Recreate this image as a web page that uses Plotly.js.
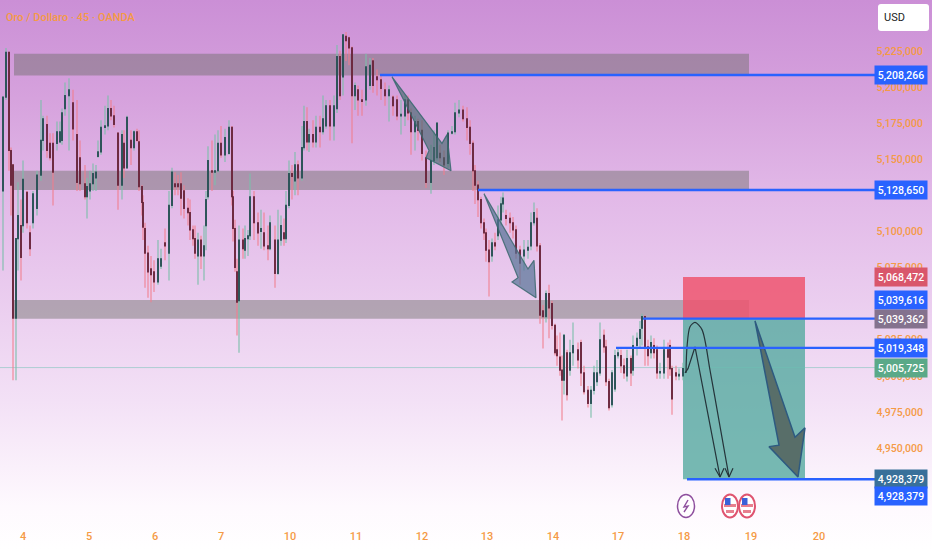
<!DOCTYPE html>
<html><head><meta charset="utf-8">
<script src="https://cdn.plot.ly/plotly-3.0.1.min.js"></script>
<style>
html,body{margin:0;padding:0;background:#fff}
#chart{width:932px;height:550px;background:linear-gradient(180deg,#cb8fd6 0%,#d6a2dd 18%,#e2b9e8 36%,#f3e1f6 73%,#fef9fe 92%,#ffffff 100%)}
</style></head><body><div id="chart"></div>
<script>
// Session time in chart units (one session = 66 units)
const barTime=[
3,6,9,11,13,16,18,21,23,27,
30,33,37,41,43,47,50,53,57,60,
62,65,69,73,77,80,85,87,90,93,
96,98,101,105,108,111,114,118,122,124,
127,131,134,137,139,142,143,145,148,151,
154,158,161,165,169,172,175,178,181,184,
188,190,193,195,198,201,204,206,208,212,
215,218,221,225,229,232,233,235,237,239,
243,245,248,250,254,258,261,264,268,270,
275,278,281,284,286,289,292,295,298,302,
304,307,309,313,316,320,323,326,330,334,
337,340,343,346,349,352,355,358,362,366,
370,373,377,381,385,389,393,397,401,405,
408,411,415,418,422,426,431,434,437,440,
444,448,452,455,459,463,467,470,473,475,
478,481,484,486,489,492,495,498,501,503,
506,510,513,516,520,524,528,531,534,537,
540,543,546,549,552,555,557,560,562,564,
567,570,573,578,581,584,588,591,594,597,
600,604,606,609,612,615,618,621,624,627,
631,633,637,640,642,645,648,651,654,657,
660,664,668,670,672,676,679,683];
// Prices in thousands of USD
const opens=[
5128,5193,5224,5156,5146,5040,5095,5104,5104,5127,
5099,5106,5116,5139,5163,5174,5161,5161,5161,5162,
5163,5185,5194,5189,5167,5151,5133,5124,5128,5133,
5137,5152,5155,5172,5173,5185,5180,5168,5132,5161,
5144,5163,5158,5169,5162,5131,5120,5102,5085,5074,
5072,5065,5076,5092,5085,5118,5133,5133,5133,5128,
5116,5113,5101,5095,5083,5094,5083,5104,5124,5142,
5141,5142,5161,5153,5154,5172,5124,5102,5072,5052,
5094,5087,5095,5097,5124,5106,5100,5099,5090,5088,
5094,5071,5094,5099,5095,5118,5140,5135,5146,5137,
5158,5176,5162,5167,5162,5172,5169,5173,5187,5173,
5185,5221,5207,5235,5234,5227,5194,5198,5191,5191,
5201,5218,5207,5205,5198,5194,5193,5191,5180,5180,
5191,5182,5169,5176,5170,5151,5134,5149,5151,5154,
5151,5147,5168,5169,5182,5184,5178,5172,5161,5142,
5132,5122,5106,5099,5087,5083,5092,5097,5108,5119,
5111,5109,5106,5101,5087,5083,5087,5090,5106,5109,
5090,5045,5041,5057,5050,5035,5018,5013,5004,4997,
5016,5004,5016,5018,5023,5002,4990,4981,4990,4996,
5002,5028,5020,4996,4980,4991,5014,5014,5007,5000,
5012,5004,5021,5026,5033,5041,5020,5016,5021,5018,
5002,5002,5018,5021,5005,5002,5000,5000];
const highs=[
5193,5227,5224,5158,5146,5095,5134,5122,5149,5128,
5104,5128,5142,5191,5180,5180,5168,5168,5176,5176,
5185,5203,5206,5198,5191,5163,5146,5137,5142,5147,
5146,5163,5177,5187,5194,5191,5187,5168,5170,5170,
5180,5170,5170,5171,5170,5132,5125,5106,5090,5083,
5080,5094,5088,5102,5128,5144,5141,5139,5141,5132,
5123,5122,5104,5104,5099,5097,5104,5128,5159,5163,
5167,5170,5173,5171,5177,5173,5128,5108,5081,5104,
5102,5104,5101,5140,5128,5113,5115,5113,5104,5111,
5104,5115,5111,5109,5128,5149,5146,5155,5149,5173,
5187,5186,5171,5177,5180,5180,5194,5191,5191,5194,
5229,5225,5236,5238,5235,5228,5203,5201,5198,5223,
5220,5220,5212,5208,5203,5201,5194,5194,5191,5194,
5194,5185,5180,5178,5177,5156,5160,5170,5175,5160,
5156,5170,5173,5189,5191,5187,5186,5177,5163,5146,
5135,5124,5109,5102,5094,5095,5099,5118,5124,5127,
5115,5113,5110,5104,5090,5094,5094,5113,5120,5116,
5092,5049,5059,5063,5052,5036,5028,5030,5014,5029,
5018,5025,5037,5023,5025,5007,4993,4993,5007,5011,
5037,5032,5025,4998,5004,5018,5019,5018,5012,5018,
5014,5028,5030,5038,5043,5042,5025,5028,5026,5021,
5009,5025,5023,5025,5007,5007,5005,5009];
const lows=[
5073,5191,5142,5111,4997,4997,5073,5066,5099,5102,
5083,5102,5111,5135,5156,5151,5149,5118,5156,5161,
5160,5180,5156,5163,5128,5128,5122,5109,5122,5128,
5128,5151,5153,5167,5170,5177,5172,5115,5122,5137,
5144,5146,5156,5162,5128,5111,5094,5061,5054,5051,
5058,5063,5074,5080,5066,5116,5125,5125,5111,5109,
5104,5094,5090,5081,5063,5074,5066,5087,5122,5128,
5132,5141,5151,5148,5153,5118,5093,5072,5028,5016,
5081,5081,5083,5094,5094,5090,5088,5087,5080,5087,
5061,5070,5090,5090,5092,5116,5122,5125,5125,5135,
5156,5156,5155,5158,5158,5158,5167,5171,5163,5163,
5182,5191,5194,5218,5215,5161,5184,5180,5180,5187,
5198,5196,5194,5191,5187,5176,5180,5177,5167,5173,
5177,5153,5156,5163,5149,5130,5126,5146,5149,5148,
5139,5144,5167,5167,5179,5176,5163,5153,5128,5119,
5110,5102,5094,5079,5055,5079,5087,5094,5104,5113,
5104,5099,5095,5081,5063,5073,5081,5087,5104,5086,
5036,5019,5037,5026,5032,5014,5007,5000,4969,4987,
4983,5000,5007,5005,4993,4987,4978,4971,4987,4993,
5000,5016,4993,4976,4978,4989,5012,5002,4998,4996,
4993,5000,5014,5020,5021,5007,5007,5012,5012,4998,
4998,4998,4998,5000,4973,4997,4997,4997];
const closes=[
5193,5224,5156,5132,5040,5095,5111,5082,5136,5106,
5088,5126,5139,5163,5178,5156,5151,5141,5169,5169,
5182,5194,5198,5171,5134,5133,5124,5131,5133,5140,
5141,5155,5172,5173,5185,5180,5174,5132,5167,5144,
5179,5158,5169,5163,5131,5120,5103,5085,5072,5070,
5065,5081,5081,5090,5118,5141,5131,5131,5123,5116,
5113,5101,5095,5085,5094,5083,5090,5122,5149,5141,
5142,5161,5153,5165,5172,5124,5102,5075,5051,5094,
5088,5095,5097,5124,5106,5099,5102,5090,5088,5106,
5071,5094,5104,5095,5118,5140,5138,5146,5137,5158,
5176,5162,5167,5162,5172,5169,5178,5187,5173,5187,
5221,5194,5236,5232,5227,5194,5201,5191,5190,5214,
5215,5201,5205,5199,5194,5198,5187,5180,5181,5191,
5182,5169,5176,5170,5154,5134,5149,5158,5175,5151,
5146,5168,5169,5182,5184,5178,5172,5161,5142,5132,
5122,5106,5099,5087,5079,5092,5090,5108,5119,5123,
5109,5106,5101,5085,5078,5087,5089,5106,5113,5090,
5042,5041,5057,5047,5035,5016,5014,5004,4997,5028,
4987,5016,5021,5011,5002,4989,4981,4990,5002,5002,
5025,5020,4996,4978,5002,5014,5016,5007,5002,5012,
5002,5021,5026,5032,5041,5020,5014,5023,5016,5002,
5003,5018,5013,5005,4984,5000,5001,5005];
const k=v=>v==null?null:v*1000;

// Tick labels
const priceTicks=[5225000,5200000,5175000,5150000,5100000,5075000,5025000,5000000,4975000,4950000];
const dayTicks=[23,89,155,221,290,356,422,487,553,618,684,751,819];
const dayLabels=['4','5','6','7','10','11','12','13','14','17','18','19','20'];

// Supply / demand zones (top, bottom, prices)
const zoneTops=[5223000,5142000,5052500];
const zoneBottoms=[5208000,5128650,5039500];
const zoneStart=14, zoneEnd=749;

// Levels
const levelPrices=[5208266,5128650,5039616,5019348,4928379];
const levelStarts=[380,478,643,616,687];
const levelEnd=875;
const lastPrice=5005725;

// Trade boxes
const stopTop=5068472, entry=5039362, target=4928379, boxStart=683, boxEnd=805;

// Price tags
const tagTexts=['5,208,266','5,128,650','5,068,472','5,039,616','5,039,362','5,019,348','5,005,725','4,928,379','4,928,379'];
const tagPrices=[5208266,5128650,5068472,5052500,5039362,5019348,5005725,4928379,4916500];
const tagColors=['#2962ff','#2962ff','#d9566b','#2962ff','#84728e','#2962ff','#5aa988','#39709a','#2962ff'];

// Drawn arrows
const arrow1T=[392,442,447,451,426,429,392], arrow1P=[5207,5161,5167,5142,5151,5156,5207];
const arrow2T=[484,528,534,536,512,518,484], arrow2P=[5126,5074,5080,5054,5065,5068,5126];
const arrow3T=[755,795,805,798,769,779,755], arrow3P=[5038,4957.5,4964,4930,4951,4952,5038];
const curveAT=[685,688,695,720], curveAP=[5002,5005,5020,4930];
const headAT=[715,720,724], headAP=[4936,4930,4936];
const curveBT=[686,687,690,695,702,710,719,729], curveBP=[5002,5020,5034,5037,5032,5004,4969,4930];
const headBT=[725,729,733], headBP=[4936,4930,4936];

const mainFont='Roboto,"Liberation Sans",sans-serif';
const orange='#f59a45';

const bodyHi=opens.map((o,i)=>Math.max(o,closes[i]));
const bodyLo=opens.map((o,i)=>Math.min(o,closes[i]));
const thin=(t,p)=>({type:'scatter',mode:'lines',x:t,y:p.map(k),line:{color:'#25343a',width:1.2},hoverinfo:'skip',showlegend:false});

const traces=[
 {type:'candlestick',x:barTime,open:opens.map(k),high:highs.map(k),low:lows.map(k),close:closes.map(k),
  width:2.4,whiskerwidth:0,hoverinfo:'skip',showlegend:false,
  increasing:{line:{color:'rgba(125,190,170,0.85)',width:1.3},fillcolor:'rgba(0,0,0,0)'},
  decreasing:{line:{color:'rgba(240,125,140,0.8)',width:1.3},fillcolor:'rgba(0,0,0,0)'}},
 {type:'candlestick',x:barTime,open:opens.map(k),high:bodyHi.map(k),low:bodyLo.map(k),close:closes.map(k),
  width:2.4,whiskerwidth:0,hoverinfo:'skip',showlegend:false,
  increasing:{line:{color:'#22484e',width:1.2},fillcolor:'#1d4248'},
  decreasing:{line:{color:'#5e1f36',width:1.2},fillcolor:'#6d1a34'}},
 {type:'scatter',mode:'lines',x:arrow1T,y:arrow1P.map(k),fill:'toself',fillcolor:'rgba(70,105,110,0.65)',
  line:{color:'rgba(55,105,110,0.85)',width:1.2},hoverinfo:'skip',showlegend:false},
 {type:'scatter',mode:'lines',x:arrow2T,y:arrow2P.map(k),fill:'toself',fillcolor:'rgba(85,115,150,0.7)',
  line:{color:'rgba(60,105,110,0.85)',width:1.2},hoverinfo:'skip',showlegend:false},
 {type:'scatter',mode:'lines',x:arrow3T,y:arrow3P.map(k),fill:'toself',fillcolor:'rgb(88,110,105)',
  line:{color:'#2e5a80',width:1.5},hoverinfo:'skip',showlegend:false},
 thin(curveAT,curveAP),thin(headAT,headAP),
 {type:'scatter',mode:'lines',x:curveBT,y:curveBP.map(k),line:{color:'#25343a',width:1.2,shape:'spline',smoothing:0.8},hoverinfo:'skip',showlegend:false},
 thin(headBT,headBP)
];

const shapes=[];
zoneTops.forEach((t,i)=>shapes.push({type:'rect',xref:'x',yref:'y',x0:zoneStart,x1:zoneEnd,y0:t,y1:zoneBottoms[i],
  fillcolor:'rgba(100,105,95,0.42)',line:{width:0},layer:'below'}));
shapes.push({type:'rect',xref:'x',yref:'y',x0:boxStart,x1:boxEnd,y0:entry,y1:stopTop,fillcolor:'rgba(238,85,110,0.85)',line:{width:0},layer:'below'});
shapes.push({type:'rect',xref:'x',yref:'y',x0:boxStart,x1:boxEnd,y0:target,y1:entry,fillcolor:'rgba(85,170,160,0.8)',line:{width:0},layer:'below'});
shapes.push({type:'line',xref:'x',yref:'y',x0:0,x1:levelEnd,y0:lastPrice,y1:lastPrice,line:{color:'rgba(110,195,180,0.5)',width:1},layer:'below'});
levelPrices.forEach((p,i)=>shapes.push({type:'line',xref:'x',yref:'y',x0:levelStarts[i],x1:levelEnd,y0:p,y1:p,line:{color:'#2962ff',width:2.4}}));

// USD button
const py=p=>1-p/550;
shapes.push({type:'path',xref:'x',yref:'paper',
  path:`M881,${py(4)} L926,${py(4)} Q929,${py(4)} 929,${py(7)} L929,${py(28)} Q929,${py(31)} 926,${py(31)} L881,${py(31)} Q878,${py(31)} 878,${py(28)} L878,${py(7)} Q878,${py(4)} 881,${py(4)} Z`,
  fillcolor:'#ffffff',line:{width:0}});
// Event icons
const cy=506;
shapes.push({type:'circle',xref:'x',yref:'paper',x0:677.5,x1:694.5,y0:py(cy+11.5),y1:py(cy-11.5),line:{color:'#8e4f9e',width:1.5},fillcolor:'rgba(255,255,255,0.6)'});
shapes.push({type:'path',xref:'x',yref:'paper',path:`M688,${py(cy-6)} L684,${py(cy+1)} L688,${py(cy)} L684,${py(cy+6)}`,line:{color:'#8e4f9e',width:1.4}});
[730,747].forEach(c=>{
  shapes.push({type:'circle',xref:'x',yref:'paper',x0:c-8,x1:c+8,y0:py(cy+11.5),y1:py(cy-11.5),line:{color:'#df5470',width:2},fillcolor:'#ffffff'});
  shapes.push({type:'rect',xref:'x',yref:'paper',x0:c-6,x1:c+6,y0:py(cy+1),y1:py(cy-2),fillcolor:'#e7808f',line:{width:0}});
  shapes.push({type:'rect',xref:'x',yref:'paper',x0:c-4,x1:c+4,y0:py(cy+7),y1:py(cy+4),fillcolor:'#e7808f',line:{width:0}});
  shapes.push({type:'rect',xref:'x',yref:'paper',x0:c-5,x1:c+0.5,y0:py(cy-1),y1:py(cy-8),fillcolor:'#3a62d8',line:{width:0}});
});

const annotations=tagTexts.map((t,i)=>({xref:'x',yref:'y',x:901,y:tagPrices[i],text:t,showarrow:false,
  bgcolor:tagColors[i],width:52,height:18,align:'center',valign:'middle',borderpad:0,
  font:{family:mainFont,size:10.5,color:'#ffffff',weight:500}}));
annotations.push({xref:'x',yref:'paper',x:894,y:py(17.5),yanchor:'middle',xanchor:'center',text:'USD',showarrow:false,font:{family:mainFont,size:11,color:'#222'}});

Plotly.newPlot('chart',traces,{
 width:932,height:550,margin:{l:0,r:0,t:0,b:0,pad:0},
 paper_bgcolor:'rgba(0,0,0,0)',plot_bgcolor:'rgba(0,0,0,0)',showlegend:false,
 title:{text:'Oro / Dollaro · 45 · OANDA',x:6/932,xanchor:'left',y:1-17/550,yanchor:'middle',font:{family:mainFont,size:11,color:orange,weight:500}},
 xaxis:{range:[0,932],fixedrange:true,showgrid:false,zeroline:false,showline:false,rangeslider:{visible:false},
  tickmode:'array',tickvals:dayTicks,ticktext:dayLabels,ticks:'',ticklabelposition:'inside',ticklabelstandoff:5,
  tickfont:{family:mainFont,size:11,color:orange,weight:500}},
 yaxis:{range:[4879430,5260200],fixedrange:true,showgrid:false,zeroline:false,showline:false,side:'right',
  tickmode:'array',tickvals:priceTicks,tickformat:',d',ticks:'',ticklabelposition:'inside',ticklabelstandoff:6,
  tickfont:{family:mainFont,size:10.5,color:orange,weight:500}},
 shapes:shapes,annotations:annotations
},{displayModeBar:false,staticPlot:true});
</script></body></html>
